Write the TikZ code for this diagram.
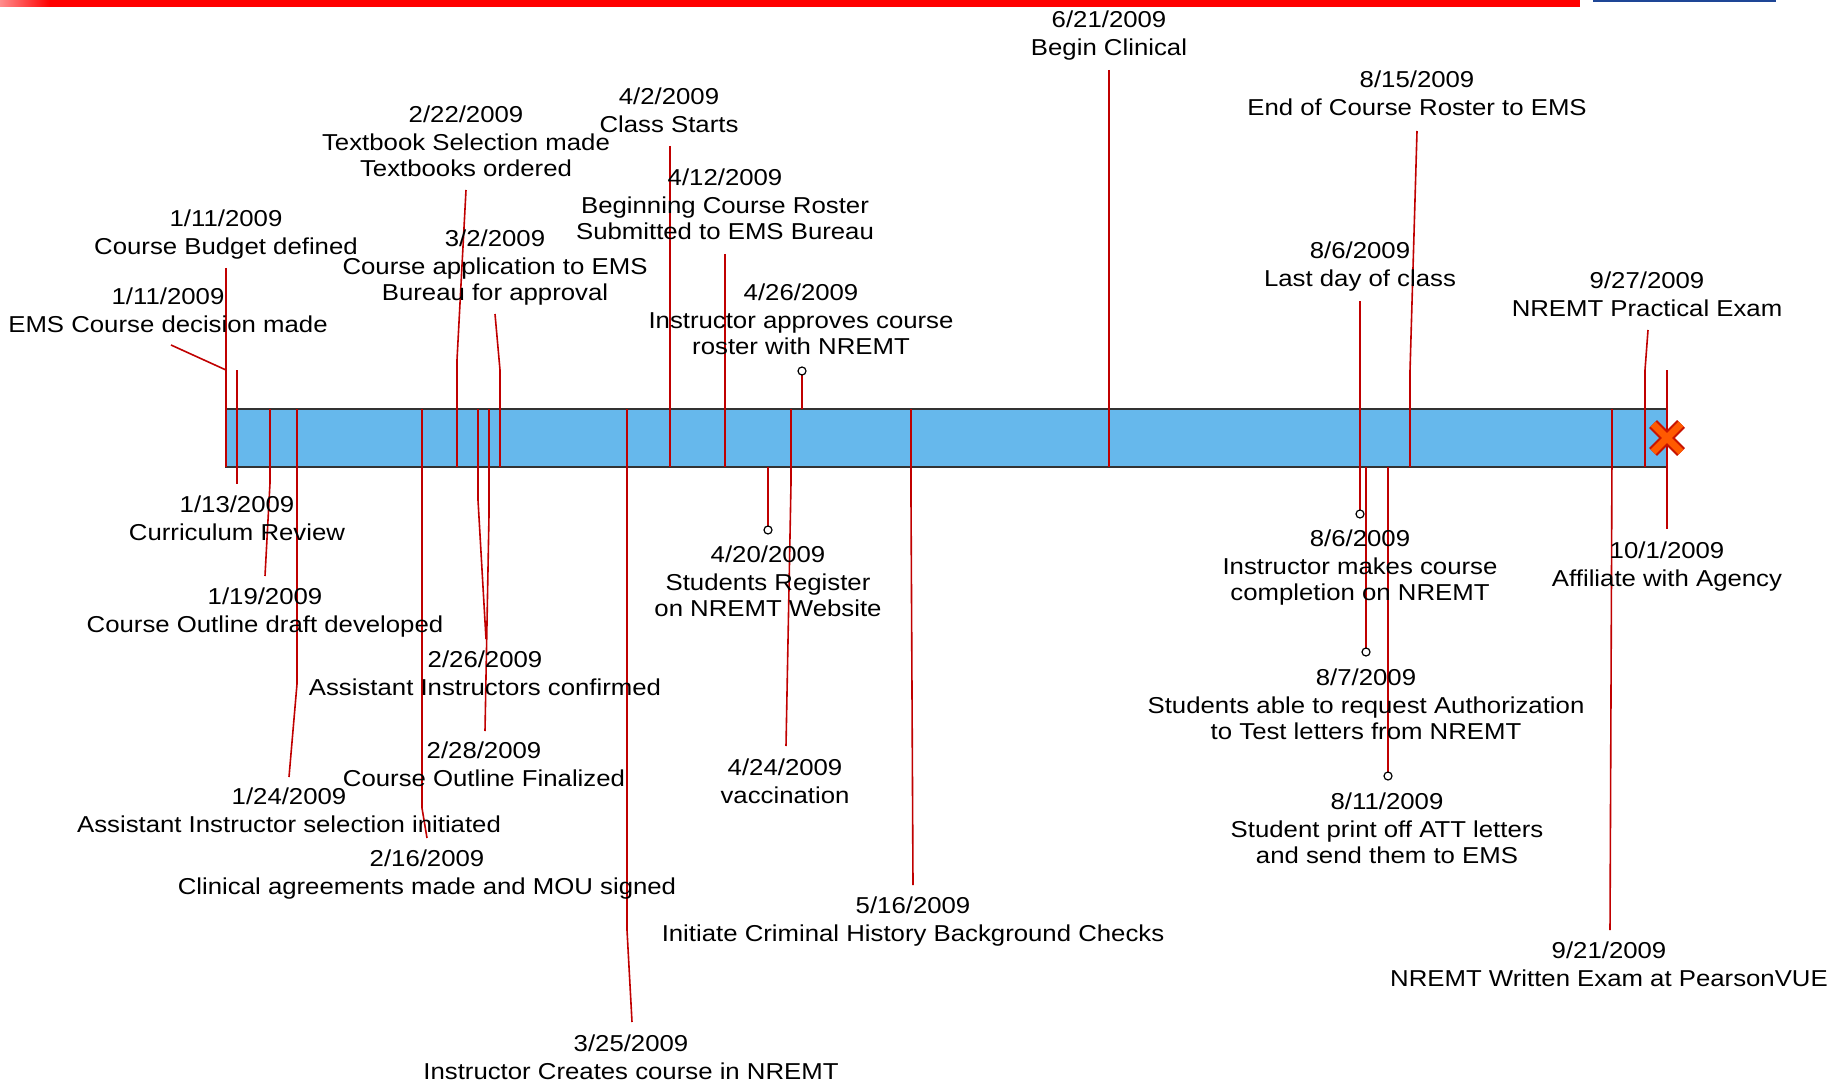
\documentclass[tikz,border=0pt]{standalone}
\usepackage{fontspec}
\setmainfont{Liberation Sans}[FakeStretch=1.12]
\usepackage{tikz}
\usepackage{xcolor}

\definecolor{evred}{RGB}{192,0,0}
\definecolor{barblue}{RGB}{102,184,236}
\definecolor{xorange}{RGB}{255,90,0}
\definecolor{xborder}{RGB}{200,20,0}
\definecolor{topblue}{RGB}{30,70,150}

\tikzset{
  evline/.style={evred, line width=1.6pt},
  evlabel/.style={anchor=north, inner sep=0pt, align=center, font=\fontsize{23}{26}\selectfont},
  pin/.style={draw=black, line width=1.2pt, fill=white},
}

\begin{document}
\begin{tikzpicture}[x=1pt, y=-1pt]
\useasboundingbox (0,0) rectangle (1830,1083);
% header strips
\fill[red] (0,0) rectangle (1580,7);
\shade[left color=red!45!white, right color=red] (0,0) rectangle (50,7);
\fill[topblue] (1593,0) rectangle (1776,2.5);

% the bar
\draw[fill=barblue, draw=black!80, line width=1.5pt] (226,409) rectangle (1667,467);

% lines above the bar
\draw[evline] (171,345) -- (226,370) -- (226,467);
\draw[evline] (226,268) -- (226,467);
\draw[evline] (466,190) -- (457,360) -- (457,467);
\draw[evline] (495,314) -- (500,370) -- (500,467);
\draw[evline] (670,146) -- (670,467);
\draw[evline] (725,254) -- (725,467);
\draw[evline] (802,371) -- (802,409);
\draw[evline] (1109,70) -- (1109,467);
\draw[evline] (1417,131) -- (1410,371) -- (1410,467);
\draw[evline] (1360,301) -- (1360,467);
\draw[evline] (1648,330) -- (1645,370) -- (1645,467);
\draw[evline, line width=2.6pt] (1667,370) -- (1667,409);

% lines below the bar
\draw[evline, line width=2.8pt] (237,370) -- (237,484);
\draw[evline] (270,409) -- (270,483) -- (265,576);
\draw[evline] (297,409) -- (297,684) -- (289,777);
\draw[evline] (422,409) -- (422,808) -- (427,838);
\draw[evline] (478,409) -- (478,500) -- (486,639);
\draw[evline] (489,409) -- (489,515) -- (485,731);
\draw[evline] (627,409) -- (627,930) -- (632,1022);
\draw[evline] (768,467) -- (768,530);
\draw[evline] (791,409) -- (791,483) -- (786,746);
\draw[evline] (911,409) -- (911,500) -- (913,885);
\draw[evline] (1360,409) -- (1360,514);
\draw[evline] (1366,467) -- (1366,652);
\draw[evline] (1388,467) -- (1388,776);
\draw[evline] (1612,409) -- (1612,452) -- (1610,930);
\draw[evline] (1667,409) -- (1667,529);

% pins
\foreach \px/\py in {802/371, 768/530, 1360/514, 1366/652, 1388/776} {
  \draw[pin] (\px,\py) circle (4pt);
}

% end marker
\foreach \c/\w in {xborder/11pt, xorange/7pt} {
  \draw[\c, line width=\w] (1653,424) -- (1681,452);
  \draw[\c, line width=\w] (1653,452) -- (1681,424);
}

% labels above
\node (emsdec) at (168,288) [evlabel] {1/11/2009\\[2pt]EMS Course decision made};
\node (budget) at (226,210) [evlabel] {1/11/2009\\[2pt]Course Budget defined};
\node (textbook) at (466,106) [evlabel] {2/22/2009\\[2pt]Textbook Selection made\\Textbooks ordered};
\node (application) at (495,230) [evlabel] {3/2/2009\\[2pt]Course application to EMS\\Bureau for approval};
\node (classstart) at (669,88) [evlabel] {4/2/2009\\[2pt]Class Starts};
\node (rosterbegin) at (725,169) [evlabel] {4/12/2009\\[2pt]Beginning Course Roster\\Submitted to EMS Bureau};
\node (approves) at (801,284) [evlabel] {4/26/2009\\[2pt]Instructor approves course\\roster with NREMT};
\node (clinical) at (1109,11) [evlabel] {6/21/2009\\[2pt]Begin Clinical};
\node (rosterend) at (1417,71) [evlabel] {8/15/2009\\[2pt]End of Course Roster to EMS};
\node (lastday) at (1360,242) [evlabel] {8/6/2009\\[2pt]Last day of class};
\node (practical) at (1647,272) [evlabel] {9/27/2009\\[2pt]NREMT Practical Exam};

% labels below
\node (review) at (237,496) [evlabel] {1/13/2009\\[2pt]Curriculum Review};
\node (draft) at (265,588) [evlabel] {1/19/2009\\[2pt]Course Outline draft developed};
\node (selection) at (289,788) [evlabel] {1/24/2009\\[2pt]Assistant Instructor selection initiated};
\node (mou) at (427,850) [evlabel] {2/16/2009\\[2pt]Clinical agreements made and MOU signed};
\node (confirmed) at (485,651) [evlabel] {2/26/2009\\[2pt]Assistant Instructors confirmed};
\node (finalized) at (484,742) [evlabel] {2/28/2009\\[2pt]Course Outline Finalized};
\node (creates) at (631,1035) [evlabel] {3/25/2009\\[2pt]Instructor Creates course in NREMT};
\node (register) at (768,546) [evlabel] {4/20/2009\\[2pt]Students Register\\on NREMT Website};
\node (vaccine) at (785,759) [evlabel] {4/24/2009\\[2pt]vaccination};
\node (background) at (913,897) [evlabel] {5/16/2009\\[2pt]Initiate Criminal History Background Checks};
\node (completion) at (1360,530) [evlabel] {8/6/2009\\[2pt]Instructor makes course\\completion on NREMT};
\node (authorize) at (1366,669) [evlabel] {8/7/2009\\[2pt]Students able to request Authorization\\to Test letters from NREMT};
\node (attletters) at (1387,793) [evlabel] {8/11/2009\\[2pt]Student print off ATT letters\\and send them to EMS};
\node (written) at (1609,942) [evlabel] {9/21/2009\\[2pt]NREMT Written Exam at PearsonVUE};
\node (affiliate) at (1667,542) [evlabel] {10/1/2009\\[2pt]Affiliate with Agency};
\end{tikzpicture}
\end{document}
